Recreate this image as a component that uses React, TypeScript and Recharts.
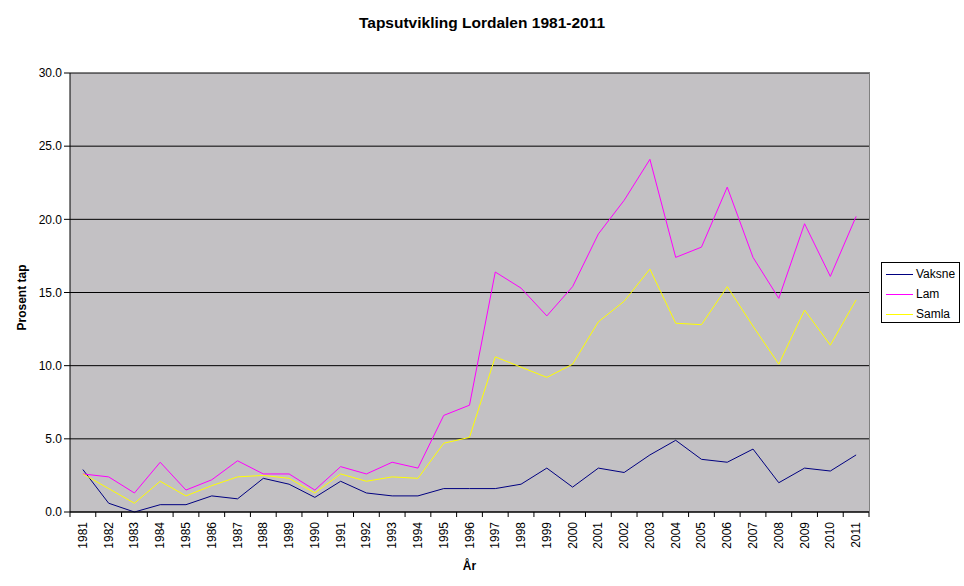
import { LineChart, Line, XAxis, YAxis, CartesianGrid } from 'recharts';

const years = [
  '1981', '1982', '1983', '1984', '1985', '1986', '1987', '1988', '1989', '1990',
  '1991', '1992', '1993', '1994', '1995', '1996', '1997', '1998', '1999', '2000',
  '2001', '2002', '2003', '2004', '2005', '2006', '2007', '2008', '2009', '2010', '2011',
];

const vaksne = [
  2.9, 0.6, 0.0, 0.5, 0.5, 1.1, 0.9, 2.3, 1.9, 1.0,
  2.1, 1.3, 1.1, 1.1, 1.6, 1.6, 1.6, 1.9, 3.0, 1.7,
  3.0, 2.7, 3.9, 4.9, 3.6, 3.4, 4.3, 2.0, 3.0, 2.8, 3.9,
];

const lam = [
  2.6, 2.4, 1.3, 3.4, 1.5, 2.2, 3.5, 2.6, 2.6, 1.5,
  3.1, 2.6, 3.4, 3.0, 6.6, 7.3, 16.4, 15.3, 13.4, 15.4,
  19.0, 21.3, 24.1, 17.4, 18.1, 22.2, 17.4, 14.6, 19.7, 16.1, 20.2,
];

const samla = [
  2.6, 1.6, 0.6, 2.1, 1.1, 1.8, 2.4, 2.5, 2.3, 1.3,
  2.6, 2.1, 2.4, 2.3, 4.7, 5.1, 10.6, 9.9, 9.2, 10.1,
  13.0, 14.4, 16.6, 12.9, 12.8, 15.4, 12.7, 10.1, 13.8, 11.4, 14.5,
];

const yTicks = [0, 5, 10, 15, 20, 25, 30];

const data = years.map((year, i) => ({
  year,
  Vaksne: vaksne[i],
  Lam: lam[i],
  Samla: samla[i],
}));

const FONT = 'Arial, "Liberation Sans", sans-serif';
const PLOT_LEFT = 70;
const PLOT_TOP = 73;
const PLOT_RIGHT = 869;
const PLOT_BOTTOM = 512;
const BAND = (PLOT_RIGHT - PLOT_LEFT) / years.length;

// ticks sit between categories, labels sit in the middle
const YearTick = ({ x, y, payload, index }: any) => {
  const last = index === years.length - 1;
  return (
    <g>
      <line x1={x - BAND / 2} x2={x - BAND / 2} y1={y - 8} y2={y - 3} stroke="#000" />
      {last && <line x1={x + BAND / 2} x2={x + BAND / 2} y1={y - 8} y2={y - 3} stroke="#000" />}
      <text
        x={0}
        y={0}
        transform={`translate(${x + 4},${y + 2}) rotate(-90)`}
        textAnchor="end"
        fontSize={12}
        fontFamily={FONT}
        fill="#000"
      >
        {payload.value}
      </text>
    </g>
  );
};

const legendItems = [
  { name: 'Vaksne', color: '#000080' },
  { name: 'Lam', color: '#FF00FF' },
  { name: 'Samla', color: '#FFFF00' },
];

export default function App() {
  return (
    <div style={{ position: 'absolute', left: 0, top: 0, width: 964, height: 586, background: '#fff', fontFamily: FONT }}>
      <div
        style={{
          position: 'absolute',
          left: 0,
          width: 964,
          top: 14,
          textAlign: 'center',
          fontSize: 15.5,
          fontWeight: 'bold',
          paddingLeft: 0,
        }}
      >
        Tapsutvikling Lordalen 1981-2011
      </div>

      <LineChart
        width={964}
        height={586}
        data={data}
        margin={{ top: PLOT_TOP, right: 964 - PLOT_RIGHT, bottom: 0, left: 0 }}
      >
        <CartesianGrid fill="#C3C1C4" stroke="#000" vertical={false} />
        <XAxis
          dataKey="year"
          scale="band"
          height={586 - PLOT_BOTTOM}
          stroke="#000"
          tickLine={false}
          interval={0}
          tick={<YearTick />}
          label={{ value: 'År', position: 'insideBottom', offset: 16, fontWeight: 'bold', fontSize: 12, fill: '#000', fontFamily: FONT }}
        />
        <YAxis
          width={PLOT_LEFT}
          domain={[0, 30]}
          ticks={yTicks}
          interval={0}
          stroke="#000"
          tickSize={6}
          tickFormatter={(v: number) => v.toFixed(1)}
          tick={{ fill: '#000', fontSize: 12, fontFamily: FONT }}
          label={{ value: 'Prosent tap', angle: -90, position: 'insideLeft', offset: 0, dx: 22, dy: 5, fontWeight: 'bold', fontSize: 12, fill: '#000', fontFamily: FONT, style: { textAnchor: 'middle' } }}
        />
        <Line type="linear" dataKey="Vaksne" stroke="#000080" strokeWidth={1} dot={false} isAnimationActive={false} />
        <Line type="linear" dataKey="Lam" stroke="#FF00FF" strokeWidth={1} dot={false} isAnimationActive={false} />
        <Line type="linear" dataKey="Samla" stroke="#FFFF00" strokeWidth={1} dot={false} isAnimationActive={false} />
      </LineChart>

      {/* grey frame at the top and right of the plot */}
      <div
        style={{
          position: 'absolute',
          left: PLOT_LEFT,
          top: PLOT_TOP - 1,
          width: PLOT_RIGHT - PLOT_LEFT,
          height: PLOT_BOTTOM - PLOT_TOP,
          borderTop: '1px solid #808080',
          borderRight: '1px solid #808080',
          pointerEvents: 'none',
        }}
      />

      <div
        style={{
          position: 'absolute',
          left: 881,
          top: 262,
          width: 79,
          height: 61,
          border: '1px solid #000',
          background: '#fff',
          boxSizing: 'border-box',
          fontSize: 12,
        }}
      >
        {legendItems.map((item, i) => (
          <div key={item.name} style={{ position: 'absolute', left: 4, top: 3 + i * 20, display: 'flex', alignItems: 'center', height: 16 }}>
            <div style={{ width: 27, height: 1, background: item.color, marginRight: 3 }} />
            <span>{item.name}</span>
          </div>
        ))}
      </div>
    </div>
  );
}
